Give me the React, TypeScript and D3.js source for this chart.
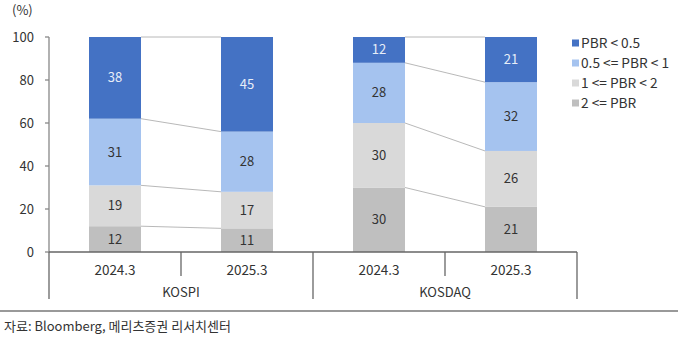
import React from "react";
import * as d3 from "d3";

const groups = ["KOSPI", "KOSDAQ"];
const periods = ["2024.3", "2025.3"];
const seriesNames = ["2 <= PBR", "1 <= PBR < 2", "0.5 <= PBR < 1", "PBR < 0.5"];
const seriesColors = ["#BFBFBF", "#D9D9D9", "#A5C3EF", "#4472C4"];
const labelColors = ["#333333", "#333333", "#333333", "#E8EEF8"];
// values per bar, bottom to top: [2<=PBR, 1<=PBR<2, 0.5<=PBR<1, PBR<0.5]
const kospi2024 = [12, 19, 31, 38];
const kospi2025 = [11, 17, 28, 45];
const kosdaq2024 = [30, 30, 28, 12];
const kosdaq2025 = [21, 26, 32, 21];
const yTicks = [0, 20, 40, 60, 80, 100];
const sourceText = "자료: Bloomberg, 메리츠증권 리서치센터";

const bars = [
  { group: 0, period: 0, values: kospi2024 },
  { group: 0, period: 1, values: kospi2025 },
  { group: 1, period: 0, values: kosdaq2024 },
  { group: 1, period: 1, values: kosdaq2025 },
];

const FONT = "'Noto Sans CJK KR', 'Noto Sans', sans-serif";

export default function App() {
  const W = 680, H = 347;
  const left = 49, right = 577, top = 37, bottom = 252;
  const y = d3.scaleLinear().domain([0, 100]).range([bottom, top]).clamp(true);
  const catKeys = bars.map((_, i) => String(i));
  const x = d3.scaleBand().domain(catKeys).range([left, right]).paddingInner(0).paddingOuter(0);
  const bw = 52;
  const stacked = bars.map((b) => {
    let acc = 0;
    return b.values.map((v) => {
      const y0 = acc;
      acc += v;
      return { y0, y1: acc, v };
    });
  });

  const barX = (i: number) => (x(String(i)) as number) + (x.bandwidth() - bw) / 2;

  const connectors: JSX.Element[] = [];
  for (let g = 0; g < groups.length; g++) {
    const a = bars.findIndex((b) => b.group === g && b.period === 0);
    const b = bars.findIndex((bb) => bb.group === g && bb.period === 1);
    for (let s = 0; s < seriesNames.length; s++) {
      connectors.push(
        <line
          key={`c-${g}-${s}`}
          x1={barX(a) + bw}
          x2={barX(b)}
          y1={y(stacked[a][s].y1)}
          y2={y(stacked[b][s].y1)}
          stroke="#A6A6A6"
          strokeWidth={0.8}
        />
      );
    }
  }

  const groupWidth = x.bandwidth() * periods.length;

  return (
    <svg width={W} height={H} style={{ position: "absolute", left: 0, top: 0, background: "#fff" }} fontFamily={FONT}>
      <text x={12} y={15} fontSize={13} fill="#333">(%)</text>
      <line x1={left} x2={left} y1={top} y2={bottom} stroke="#888" strokeWidth={1.3} />
      {yTicks.map((t) => (
        <g key={t}>
          <line x1={left - 4} x2={left} y1={y(t)} y2={y(t)} stroke="#888" strokeWidth={1.3} />
          <text x={34} y={y(t)} dy="0.35em" textAnchor="end" fontSize={13} fill="#333">{t}</text>
        </g>
      ))}
      {connectors}
      {stacked.map((segs, i) =>
        segs.map((sg, s) => (
          <g key={`b-${i}-${s}`}>
            <rect
              x={barX(i)}
              width={bw}
              y={y(sg.y1)}
              height={y(sg.y0) - y(sg.y1)}
              fill={seriesColors[s]}
            />
            <text
              x={barX(i) + bw / 2}
              y={(y(sg.y0) + y(sg.y1)) / 2}
              dy="0.35em"
              textAnchor="middle"
              fontSize={13}
              fill={labelColors[s]}
            >
              {sg.v}
            </text>
          </g>
        ))
      )}
      <line x1={left} x2={right} y1={bottom} y2={bottom} stroke="#666" strokeWidth={1.3} />
      {bars.map((b, i) => (
        <text key={`cl-${i}`} x={(x(String(i)) as number) + x.bandwidth() / 2} y={270} dy="0.35em" textAnchor="middle" fontSize={13.5} fill="#333">
          {periods[b.period]}
        </text>
      ))}
      {groups.map((g, gi) => {
        const gx = left + gi * groupWidth;
        return (
          <g key={g}>
            <line x1={gx + x.bandwidth()} x2={gx + x.bandwidth()} y1={bottom} y2={276} stroke="#666" strokeWidth={1.3} />
            <text x={gx + groupWidth / 2} y={292} dy="0.35em" textAnchor="middle" fontSize={13} fill="#333">{g}</text>
          </g>
        );
      })}
      {[0, 1, 2].map((k) => (
        <line key={`gd-${k}`} x1={left + k * groupWidth} x2={left + k * groupWidth} y1={bottom} y2={299} stroke="#666" strokeWidth={1.3} />
      ))}
      {[3, 2, 1, 0].map((s, r) => (
        <g key={`lg-${s}`}>
          <rect x={572} y={43 + r * 20 - 3.5} width={7} height={7} fill={seriesColors[s]} />
          <text x={581} y={43 + r * 20} dy="0.35em" fontSize={13.7} fill="#333">{seriesNames[s]}</text>
        </g>
      ))}
      <line x1={0} x2={678} y1={311} y2={311} stroke="#999" strokeWidth={2} />
      <text x={4} y={326} dy="0.35em" fontSize={13} fill="#333">{sourceText}</text>
    </svg>
  );
}
